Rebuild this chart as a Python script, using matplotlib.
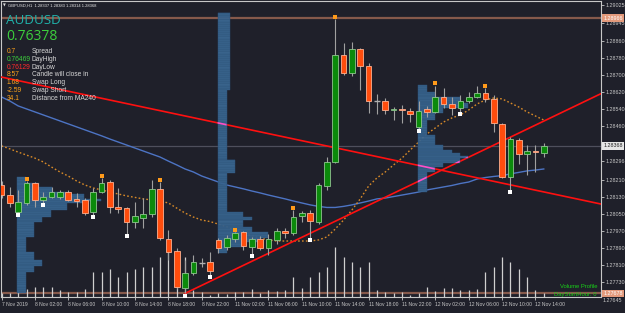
import matplotlib
matplotlib.use('Agg')
import matplotlib.pyplot as plt
from matplotlib.patches import Rectangle
from matplotlib.path import Path
from matplotlib.transforms import blended_transform_factory
import numpy as np

plt.rcParams['font.family'] = ['Liberation Sans', 'DejaVu Sans']

# ---------------- data ----------------
header = "GBPUSD,H1  1.28337 1.28383 1.28314 1.28368"

opens = [1.28185, 1.28138, 1.28059, 1.28101, 1.28195, 1.28115, 1.28129, 1.28129, 1.28152, 1.28120,
         1.28115, 1.28059, 1.28152, 1.28199, 1.28082, 1.28077, 1.28012, 1.28031, 1.28049, 1.28167,
         1.27932, 1.27876, 1.27703, 1.27773, 1.27822, 1.27825, 1.27928, 1.27895, 1.27932, 1.27965,
         1.27895, 1.27932, 1.27890, 1.27928, 1.27970, 1.27961, 1.28040, 1.28054, 1.28012, 1.28180,
         1.28293, 1.28794, 1.28709, 1.28822, 1.28742, 1.28578, 1.28578, 1.28536, 1.28541, 1.28531,
         1.28457, 1.28541, 1.28527, 1.28597, 1.28564, 1.28546, 1.28578, 1.28597, 1.28616, 1.28588,
         1.28471, 1.28223, 1.28396, 1.28330, 1.28344, 1.28337]
highs = [1.28204, 1.28176, 1.28162, 1.28204, 1.28199, 1.28152, 1.28176, 1.28162, 1.28162, 1.28148,
         1.28124, 1.28171, 1.28217, 1.28209, 1.28171, 1.28082, 1.28106, 1.28124, 1.28209, 1.28199,
         1.27975, 1.27890, 1.27834, 1.27858, 1.27844, 1.27872, 1.27937, 1.27951, 1.27965, 1.27970,
         1.27942, 1.27947, 1.27956, 1.27984, 1.27984, 1.28068, 1.28063, 1.28068, 1.28195, 1.28316,
         1.28962, 1.28850, 1.28854, 1.28826, 1.28756, 1.28611, 1.28592, 1.28550, 1.28559, 1.28546,
         1.28578, 1.28555, 1.28649, 1.28639, 1.28597, 1.28606, 1.28620, 1.28649, 1.28639, 1.28606,
         1.28475, 1.28410, 1.28405, 1.28372, 1.28372, 1.28383]
lows = [1.28124, 1.28082, 1.28054, 1.28092, 1.28082, 1.28101, 1.28124, 1.28120, 1.28110, 1.28082,
        1.28045, 1.28045, 1.28148, 1.28054, 1.28054, 1.27956, 1.27984, 1.27984, 1.28035, 1.27928,
        1.27834, 1.27698, 1.27678, 1.27764, 1.27801, 1.27764, 1.27867, 1.27881, 1.27918, 1.27881,
        1.27862, 1.27881, 1.27858, 1.27909, 1.27937, 1.27951, 1.28012, 1.27937, 1.28002, 1.28162,
        1.28287, 1.28700, 1.28695, 1.28630, 1.28522, 1.28517, 1.28517, 1.28489, 1.28475, 1.28480,
        1.28447, 1.28503, 1.28522, 1.28546, 1.28513, 1.28527, 1.28569, 1.28592, 1.28573, 1.28433,
        1.28217, 1.28162, 1.28283, 1.28232, 1.28246, 1.28314]
closes = [1.28138, 1.28101, 1.28106, 1.28195, 1.28115, 1.28129, 1.28152, 1.28152, 1.28115, 1.28110,
          1.28054, 1.28152, 1.28195, 1.28082, 1.28073, 1.28012, 1.28040, 1.28049, 1.28167, 1.27937,
          1.27872, 1.27708, 1.27773, 1.27825, 1.27822, 1.27783, 1.27890, 1.27937, 1.27961, 1.27900,
          1.27932, 1.27890, 1.27932, 1.27970, 1.27961, 1.28035, 1.28054, 1.28017, 1.28185, 1.28293,
          1.28794, 1.28709, 1.28822, 1.28742, 1.28578, 1.28578, 1.28536, 1.28541, 1.28536, 1.28517,
          1.28531, 1.28527, 1.28597, 1.28564, 1.28546, 1.28578, 1.28597, 1.28616, 1.28588, 1.28475,
          1.28223, 1.28400, 1.28330, 1.28344, 1.28339, 1.28368]
volumes = [400, 400, 600, 800, 1000, 1000, 1000, 700, 500, 500, 800, 2500, 2500, 2800, 2000, 2500,
           2800, 3000, 3000, 4000, 5000, 4500, 4000, 700, 500, 200, 400, 300, 500, 500, 800, 400,
           700, 600, 700, 2000, 900, 2000, 2500, 3000, 5000, 4000, 3500, 3000, 3500, 700, 500,
           400, 500, 200, 400, 1000, 600, 900, 900, 700, 700, 800, 2500, 3000, 4000, 3500,
           2800, 2000, 700, 400]

ma_slow = [1.28597, 1.28578, 1.28555, 1.28541, 1.28527, 1.28513, 1.28499, 1.28485, 1.28471, 1.28457,
           1.28443, 1.28429, 1.28415, 1.28400, 1.28386, 1.28372, 1.28358, 1.28344, 1.28330, 1.28316,
           1.28297, 1.28279, 1.28260, 1.28246, 1.28227, 1.28213, 1.28199, 1.28185, 1.28176, 1.28167,
           1.28157, 1.28148, 1.28138, 1.28129, 1.28120, 1.28110, 1.28101, 1.28092, 1.28085, 1.28080,
           1.28080, 1.28085, 1.28092, 1.28101, 1.28110, 1.28120, 1.28124, 1.28131, 1.28138, 1.28145,
           1.28152, 1.28162, 1.28169, 1.28176, 1.28183, 1.28192, 1.28199, 1.28213, 1.28220, 1.28225,
           1.28229, 1.28237, 1.28244, 1.28251, 1.28255, 1.28260]
ma_fast = [1.28368, 1.28354, 1.28339, 1.28325, 1.28311, 1.28293, 1.28269, 1.28246, 1.28227, 1.28204,
           1.28185, 1.28171, 1.28162, 1.28152, 1.28143, 1.28134, 1.28127, 1.28120, 1.28115, 1.28110,
           1.28101, 1.28077, 1.28054, 1.28035, 1.28021, 1.28014, 1.28002, 1.27989, 1.27975, 1.27961,
           1.27947, 1.27937, 1.27928, 1.27923, 1.27923, 1.27923, 1.27923, 1.27923, 1.27928, 1.27942,
           1.27979, 1.28021, 1.28068, 1.28120, 1.28180, 1.28218, 1.28246, 1.28279, 1.28311, 1.28349,
           1.28386, 1.28424, 1.28452, 1.28480, 1.28499, 1.28513, 1.28536, 1.28564, 1.28583, 1.28592,
           1.28588, 1.28569, 1.28550, 1.28527, 1.28508, 1.28489]

fractal_up = [3, 12, 19, 28, 35, 40, 52, 58]
fractal_down = [2, 5, 11, 15, 22, 25, 30, 37, 50, 55, 61]

trend_a_bars = [0, 60]
trend_a_prices = [1.28690, 1.28194]
trend_b_bars = [22, 61]
trend_b_prices = [1.27678, 1.28409]

level_high = 1.28966
level_low = 1.27678
last_price = 1.28368

time_tick_bars = [0, 4, 8, 12, 16, 20, 24, 28, 32, 36, 40, 44, 48, 52, 56, 60, 64]
time_tick_labels = ["7 Nov 2019", "8 Nov 02:00", "8 Nov 06:00", "8 Nov 10:00", "8 Nov 14:00",
                    "8 Nov 18:00", "8 Nov 22:00", "11 Nov 02:00", "11 Nov 06:00", "11 Nov 10:00",
                    "11 Nov 14:00", "11 Nov 18:00", "11 Nov 22:00", "12 Nov 02:00", "12 Nov 06:00",
                    "12 Nov 10:00", "12 Nov 14:00"]
price_ticks = [1.29025, 1.28945, 1.28860, 1.28780, 1.28700, 1.28620, 1.28540, 1.28460,
               1.28296, 1.28210, 1.28130, 1.28050, 1.27970, 1.27890, 1.27810, 1.27730]
price_tick_bottom = 1.27645

profile_start = [2, 26, 50]
prof1_edges = [1.28223, 1.28195, 1.28176, 1.28152, 1.28143, 1.28120, 1.28110, 1.28101, 1.28068,
               1.28035, 1.28012, 1.27942, 1.27872, 1.27834, 1.27806, 1.27778, 1.27680]
prof1_vol = [90, 220, 350, 500, 670, 840, 670, 500, 340, 250, 170, 90, 170, 250, 170, 90]
prof2_edges = [1.28990, 1.28630, 1.28302, 1.28241, 1.28059, 1.28035, 1.28021, 1.27989, 1.27965,
               1.27937, 1.27918, 1.27895, 1.27867]
prof2_vol = [120, 90, 170, 90, 250, 340, 250, 340, 500, 420, 250, 90]
prof3_edges = [1.28653, 1.28620, 1.28597, 1.28569, 1.28546, 1.28522, 1.28489, 1.28419, 1.28372,
               1.28349, 1.28335, 1.28321, 1.28311, 1.28288, 1.28269, 1.28246, 1.28152]
prof3_vol = [90, 170, 420, 500, 250, 170, 90, 170, 250, 340, 420, 500, 420, 250, 170, 90]

panel_symbol = "AUDUSD"
panel_price = "0.76378"
info_values = ["0.7", "0.76469", "0.76129", "8:57", "1.68", "-2.59", "34.1"]
info_labels = ["Spread", "DayHigh", "DayLow", "Candle will close in", "Swap Long", "Swap Short",
               "Distance from MA240"]

# ---------------- style ----------------
BG = '#1f202a'
FRAME = '#c8c8c8'
BULL, BULL_EDGE = '#0b8a0b', '#8fc58f'
BEAR, BEAR_EDGE = '#ff4d0d', '#ffb090'
WICK = '#a0a0a0'
W, H = 625, 313

fig = plt.figure(figsize=(W / 100, H / 100), dpi=100)
fig.patch.set_facecolor(BG)
L, R, T, B = 0.5 / W, 601 / W, 1 - 1 / H, 1 - 297 / H
ax = fig.add_axes([L, B, R - L, T - B])
ax.set_facecolor(BG)
XMAX = 71.86
ax.set_xlim(-0.12, XMAX)
ax.set_ylim(1.27661, 1.29046)

n = len(opens)
idx = np.arange(n)

# horizontal levels
ax.axhline(last_price, color='#4e4f5c', lw=0.9, zorder=1)
ax.axhline(level_high, color='#86594b', lw=1.6, zorder=1)
ax.axhline(level_low, color='#86594b', lw=1.6, zorder=1)

# volumes at bottom
vtr = blended_transform_factory(ax.transData, ax.transAxes)
ax.vlines(idx, 0, np.array(volumes) / 29600.0, color='#cfcfcf', lw=0.9, transform=vtr, zorder=1.5)

# moving averages
ax.plot(idx, ma_slow, color='#4d74c4', lw=1.0, zorder=2.5)
ax.plot(idx, ma_fast, color='#d88a28', lw=1.0, ls=(0, (1.2, 1.6)), zorder=2.5)

# trend lines (drawn as explicit segments so they can be re-drawn over the profiles)
slope_a = (trend_a_prices[1] - trend_a_prices[0]) / (trend_a_bars[1] - trend_a_bars[0])
xa = np.array([-0.12, XMAX])
ya = trend_a_prices[0] + slope_a * (xa - trend_a_bars[0])
slope_b = (trend_b_prices[1] - trend_b_prices[0]) / (trend_b_bars[1] - trend_b_bars[0])
xb = np.array([trend_b_bars[0], XMAX])
yb_line = trend_b_prices[0] + slope_b * (xb - trend_b_bars[0])
for xs, ys in [(xa, ya), (xb, yb_line)]:
    ax.plot(xs, ys, color='#ff1010', lw=1.2, zorder=2.6)

# volume profiles
row = 0.0001
prof_patches = []
for start, edges, vols in zip(profile_start, [prof1_edges, prof2_edges, prof3_edges],
                              [prof1_vol, prof2_vol, prof3_vol]):
    for k, v in enumerate(vols):
        top, bot = edges[k], edges[k + 1]
        yrows = np.arange(bot, top, row)
        hts = np.minimum(row, top - yrows)
        bars = ax.barh(yrows, v / 83.5, height=hts, left=start - 0.1, align='edge', color='#3d6b97',
                       edgecolor='#2c5279', linewidth=0.35, alpha=0.9, zorder=3)
        prof_patches.extend(bars.patches)

# trend lines look pink where they cross the profiles
clip = Path.make_compound_path(*[p.get_patch_transform().transform_path(p.get_path())
                                 for p in prof_patches])
for xs, ys in [(xa, ya), (xb, yb_line)]:
    ln, = ax.plot(xs, ys, color='#ff4fc8', lw=1.2, zorder=3.5)
    ln.set_clip_path(clip, ax.transData)

# candles
bw = 0.68
for i in range(n):
    o, h, l, c = opens[i], highs[i], lows[i], closes[i]
    ax.vlines(i, l, h, color=WICK, lw=0.8, zorder=4)
    if abs(c - o) < 0.00002:
        col = '#b0b0b0' if c == o else (BULL_EDGE if c > o else BEAR)
        ax.hlines((o + c) / 2, i - bw / 2, i + bw / 2, color=col, lw=1.0, zorder=5)
    else:
        fc, ec = (BULL, BULL_EDGE) if c > o else (BEAR, BEAR_EDGE)
        ax.add_patch(Rectangle((i - bw / 2, min(o, c)), bw, abs(c - o), facecolor=fc,
                               edgecolor=ec, lw=0.6, zorder=5))

# fractal markers
ax.scatter(fractal_up, [highs[i] + 0.00011 for i in fractal_up], marker='s', s=6,
           color='#ff9a1a', zorder=6, linewidths=0)
ax.scatter(fractal_down, [lows[i] - 0.00011 for i in fractal_down], marker='s', s=6,
           color='#ffffff', zorder=6, linewidths=0)

# axes styling
for sp in ax.spines.values():
    sp.set_color(FRAME)
    sp.set_linewidth(0.8)
ax.yaxis.tick_right()
ax.set_yticks(price_ticks)
ax.set_yticklabels(['%.5f' % p for p in price_ticks])
ax.set_xticks(time_tick_bars)
ax.set_xticklabels(time_tick_labels)
ax.tick_params(axis='y', colors=FRAME, labelsize=3.9, length=2, width=0.6, pad=1.2)
ax.tick_params(axis='x', colors=FRAME, labelsize=3.6, length=2, width=0.6, pad=1.5)
for lbl in ax.get_xticklabels():
    lbl.set_ha('left')


def px(x, y):
    return x / W, 1 - y / H


def price_y(p):
    return ax.transData.transform((0, p))[1] / H


fig.text(603 / W, (H - 300.5) / H, '%.5f' % price_tick_bottom, fontsize=3.9, color=FRAME,
         va='center', ha='left')
for p, fc, tc in [(level_high, '#e39a7c', '#ffffff'), (last_price, '#e6e6e6', '#202020'),
                  (level_low, '#e39a7c', '#ffffff')]:
    fig.text(603.5 / W, price_y(p), '%.5f' % p, fontsize=3.9, color=tc, va='center', ha='left',
             bbox=dict(boxstyle='square,pad=0.25', fc=fc, ec='none'))

# header
fig.text(*px(3, 5.5), '\u25bc', fontsize=2.6, color='#e0e0e0', va='center', ha='left',
         family='DejaVu Sans')
fig.text(*px(8.5, 5.5), header, fontsize=3.0, color='#e8e8e8', va='center', ha='left')

# info panel
fig.text(*px(6, 21), panel_symbol, fontsize=9.6, color='#20b2aa', va='center', ha='left',
         family='Open Sans')
fig.text(*px(6, 37), panel_price, fontsize=10, color='#3ccf3c', va='center', ha='left',
         family='Open Sans')
val_colors = ['#ffa31a', '#3ccf3c', '#ff2a2a', '#ffa31a', '#ffa31a', '#ffa31a', '#ffa31a']
for k, (v, lab) in enumerate(zip(info_values, info_labels)):
    yy = 51.5 + 7.8 * k
    fig.text(*px(6.5, yy), v, fontsize=4.8, color=val_colors[k], va='center', ha='left')
    fig.text(*px(32, yy), lab, fontsize=4.8, color='#d8d8d8', va='center', ha='left')

fig.text(*px(597, 286.5), 'Volume Profile', fontsize=4.2, color='#18d018', va='center', ha='right')
fig.text(*px(597, 294.5), 'DayStartHour: 0', fontsize=4.2, color='#18d018', va='center', ha='right')

fig.savefig('out.png', dpi=100, facecolor=BG)
